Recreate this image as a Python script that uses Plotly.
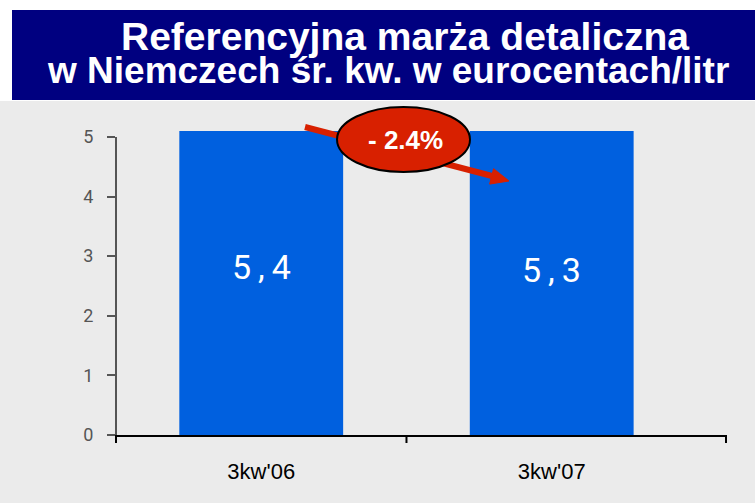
import plotly.graph_objects as go

# ---- data ----
categories = ["3kw'06", "3kw'07"]
values = [5.4, 5.3]
value_labels = [f"{v:.1f}".replace(".", "\u2009,\u2009") for v in values]
y_ticks = [0, 1, 2, 3, 4, 5]
change_label = "- 2.4%"
title_line1 = "Referencyjna marża detaliczna"
title_line2 = "w Niemczech śr. kw. w eurocentach/litr"

# ---- layout geometry (pixels) ----
W, H = 755, 503
L, R, T, B = 116, 29, 131, 68
PW, PH = W - L - R, H - T - B
X_RANGE = [-0.5, 1.6]
Y_RANGE = [0, 5.1]


def px(x):
    return (x - L) / PW


def py(y):
    return (H - B - y) / PH


RED = "#d82000"
BLUE = "#0060df"
GREY_BG = "#ebebeb"
NAVY = "#000080"

fig = go.Figure()
fig.add_trace(go.Bar(
    x=categories, y=values, width=0.564,
    marker=dict(color=BLUE, line=dict(width=0)),
    cliponaxis=True, hoverinfo="skip",
))

shapes = []
# white page top + navy title box
shapes.append(dict(type="rect", xref="paper", yref="paper", x0=px(0), x1=px(W),
                   y0=py(101), y1=py(0), fillcolor="white", line=dict(width=0), layer="below"))
shapes.append(dict(type="rect", xref="paper", yref="paper", x0=px(12), x1=px(W),
                   y0=py(100), y1=py(10), fillcolor=NAVY, line=dict(width=0), layer="below"))

# y axis line from 0 to top tick
shapes.append(dict(type="line", xref="paper", yref="paper", x0=0, x1=0,
                   y0=0, y1=max(y_ticks) / Y_RANGE[1], line=dict(color="#555555", width=2)))

# x-axis tick marks at category boundaries and axis ends
span = X_RANGE[1] - X_RANGE[0]
bounds = [0.0] + [((i + 0.5) - X_RANGE[0]) / span for i in range(len(categories) - 1)] + [1.0]
for b in bounds:
    shapes.append(dict(type="line", xref="paper", yref="paper", x0=b, x1=b,
                       y0=0, y1=-8 / PH, line=dict(color="black", width=2)))

# arrow (drawn under ellipse)
shapes.append(dict(type="line", xref="paper", yref="paper",
                   x0=px(305), y0=py(127), x1=px(494), y1=py(176.5),
                   line=dict(color=RED, width=6)))
tri = [(509, 181), (493.6, 168.7), (489.6, 184.1)]
path = "M " + " L ".join(f"{px(a):.5f},{py(b):.5f}" for a, b in tri) + " Z"
shapes.append(dict(type="path", xref="paper", yref="paper", path=path,
                   fillcolor=RED, line=dict(color=RED, width=1)))
# ellipse
shapes.append(dict(type="circle", xref="paper", yref="paper",
                   x0=px(337), x1=px(470), y0=py(172), y1=py(107),
                   fillcolor=RED, line=dict(color="black", width=2)))

annotations = [
    dict(text=f"<b>{change_label}</b>", xref="paper", yref="paper", x=px(405), y=py(140),
         showarrow=False, xanchor="center", yanchor="middle",
         font=dict(family="Liberation Sans", size=26, color="white")),
    dict(text=f"<b>{title_line1}</b>", xref="paper", yref="paper", x=px(405), y=py(36),
         showarrow=False, xanchor="center", yanchor="middle",
         font=dict(family="Liberation Sans", size=39, color="white")),
    dict(text=f"<b>{title_line2}</b>", xref="paper", yref="paper", x=px(388), y=py(71),
         showarrow=False, xanchor="center", yanchor="middle",
         font=dict(family="Liberation Sans", size=37, color="white")),
]
# value labels inside bars (centred on half the bar value, nudged up)
for c, v, t in zip(categories, values, value_labels):
    annotations.append(dict(text=t, xref="x", yref="y", x=c, y=v / 2, yshift=7,
                            showarrow=False, xanchor="center", yanchor="middle",
                            font=dict(family="Roboto", size=34, color="white")))

fig.update_layout(
    width=W, height=H,
    margin=dict(l=L, r=R, t=T, b=B, pad=0),
    paper_bgcolor=GREY_BG, plot_bgcolor=GREY_BG,
    showlegend=False, shapes=shapes, annotations=annotations,
    xaxis=dict(type="category", range=X_RANGE, showline=True, linecolor="black",
               linewidth=2, ticks="", showgrid=False, zeroline=False,
               tickfont=dict(family="Liberation Sans", size=22, color="black"),
               ticklabelstandoff=16, fixedrange=True),
    yaxis=dict(range=Y_RANGE, tickvals=y_ticks, ticks="outside", ticklen=8, tickwidth=2,
               tickcolor="#555555", showline=False, showgrid=False, zeroline=False,
               tickfont=dict(family="Roboto", size=18, color="#555555"),
               ticklabelstandoff=10, fixedrange=True),
)

fig.write_html("out.html", config={"displayModeBar": False},
               post_script="document.body.style.margin='0px';document.body.style.overflow='hidden';")
